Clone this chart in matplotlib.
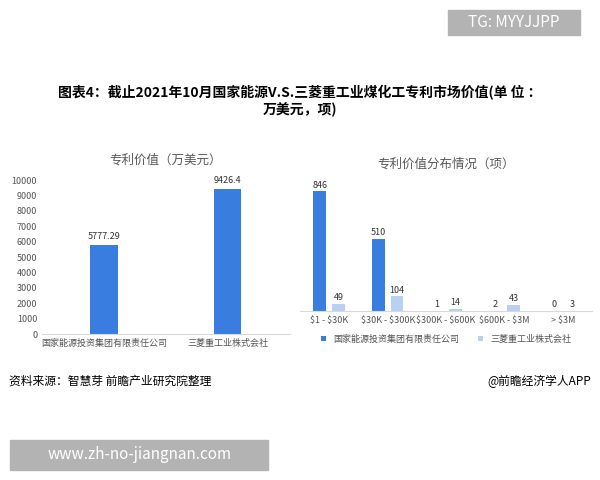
import matplotlib.pyplot as plt
from matplotlib.patches import Rectangle

plt.rcParams['font.family'] = ['Noto Sans CJK SC', 'DejaVu Sans']
plt.rcParams['text.parse_math'] = False

# data
companies = ['国家能源投资集团有限责任公司', '三菱重工业株式会社']
values = [5777.29, 9426.4]
value_labels = ['5777.29', '9426.4']
ranges = ['$1 - $30K', '$30K - $300K', '$300K - $600K', '$600K - $3M', '> $3M']
guoneng = [846, 510, 1, 2, 0]
mitsubishi = [49, 104, 14, 43, 3]

dark = '#3a7de0'
light = '#b7d0f4'

fig = plt.figure(figsize=(6, 4.8), dpi=100)

fig.text(0.5, 0.79, '图表4：截止2021年10月国家能源V.S.三菱重工业煤化工专利市场价值(单 位 ：\n万美元，项)',
         ha='center', va='center', fontsize=10, fontweight='bold', linespacing=1.2)

# left chart
ax1 = fig.add_axes([0.07, 0.304, 0.413, 0.321])
x1 = range(len(companies))
ax1.bar(x1, values, width=0.22, color=dark)
for i, v in enumerate(values):
    ax1.text(i, v + 250, value_labels[i], ha='center', va='bottom', fontsize=6.5, color='#333333')
ax1.set_ylim(0, 10000)
ax1.set_xlim(-0.5, 1.5)
ax1.set_yticks(range(0, 10001, 1000))
ax1.set_xticks(list(x1))
ax1.set_xticklabels(companies, fontsize=6.5, color='#555555')
ax1.tick_params(axis='y', labelsize=6.5, colors='#555555', length=0)
ax1.tick_params(axis='x', length=0)
for s in ['top', 'right', 'left']:
    ax1.spines[s].set_visible(False)
ax1.spines['bottom'].set_color('#d9d9d9')
ax1.set_title('专利价值（万美元）', fontsize=9, color='#595959', pad=12)

# right chart
ax2 = fig.add_axes([0.5, 0.352, 0.487, 0.265])
xs = range(len(ranges))
w = 0.22
ax2.bar([x - 0.16 for x in xs], guoneng, width=w, color=dark, label='国家能源投资集团有限责任公司')
ax2.bar([x + 0.16 for x in xs], mitsubishi, width=w, color=light, label='三菱重工业株式会社')
for x, a, b in zip(xs, guoneng, mitsubishi):
    ax2.text(x - 0.16, a + 12, str(a), ha='center', va='bottom', fontsize=6.5, color='#333333')
    ax2.text(x + 0.16, b + 12, str(b), ha='center', va='bottom', fontsize=6.5, color='#333333')
ax2.set_ylim(0, 900)
ax2.set_xlim(-0.5, 4.5)
ax2.set_yticks([])
ax2.set_xticks(list(xs))
ax2.set_xticklabels(ranges, fontsize=6.5, color='#555555')
ax2.tick_params(axis='x', length=0)
for s in ['top', 'right', 'left']:
    ax2.spines[s].set_visible(False)
ax2.spines['bottom'].set_color('#d9d9d9')
ax2.set_title('专利价值分布情况（项）', fontsize=9, color='#595959', pad=12)
ax2.legend(loc='upper center', bbox_to_anchor=(0.5, -0.12), ncol=2, frameon=False,
           fontsize=6.5, handlelength=0.6, handleheight=0.6, columnspacing=2, labelcolor='#555555')

fig.text(0.015, 0.205, '资料来源：智慧芽 前瞻产业研究院整理', fontsize=8.5, va='center')
fig.text(0.985, 0.205, '@前瞻经济学人APP', fontsize=8.5, va='center', ha='right')

# overlay boxes
fig.patches.append(Rectangle((0.747, 0.927), 0.22, 0.052, transform=fig.transFigure, color='#b3b3b3', zorder=5))
fig.text(0.857, 0.953, 'TG: MYYJJPP', fontsize=11, color='white', ha='center', va='center', zorder=6)
fig.patches.append(Rectangle((0.017, 0.021), 0.43, 0.063, transform=fig.transFigure, color='#b3b3b3', zorder=5))
fig.text(0.232, 0.053, 'www.zh-no-jiangnan.com', fontsize=11, color='white', ha='center', va='center', zorder=6)

fig.savefig('out.png', dpi=100)
